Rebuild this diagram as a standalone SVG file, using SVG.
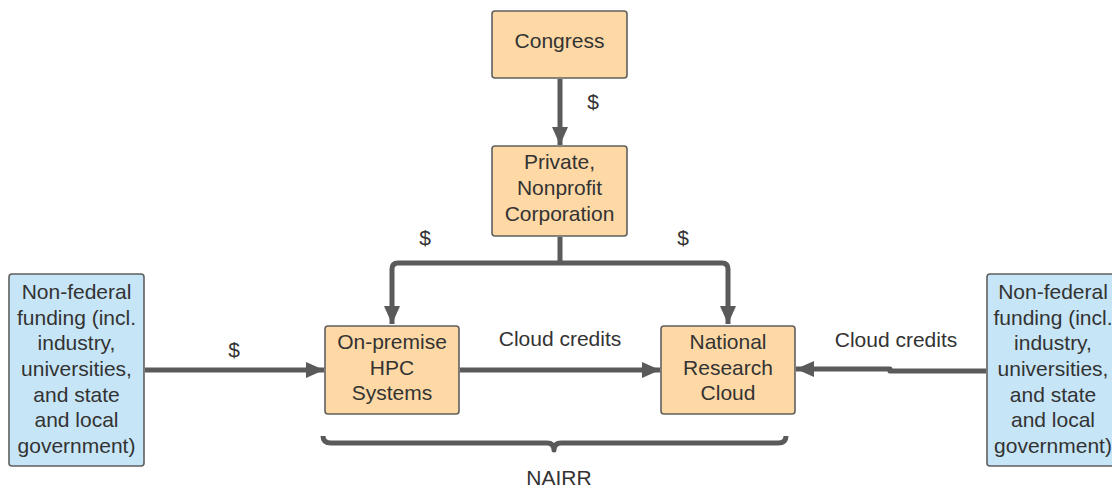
<svg xmlns="http://www.w3.org/2000/svg" width="1112" height="489" viewBox="0 0 1112 489">
<style>
.box{stroke:#5f5f5f;stroke-width:1.6}
.org{fill:#fed9a6}
.blu{fill:#c6e5f6}
text{font-family:"Liberation Sans",Arial,sans-serif;font-size:21px;fill:#333;text-anchor:middle}
.ln{fill:none;stroke:#5a5a5a;stroke-width:5;stroke-linejoin:round}
.arr{marker-end:url(#ah)}
</style>
<defs>
<marker id="ah" markerUnits="userSpaceOnUse" markerWidth="20" markerHeight="16" refX="18" refY="8" orient="auto">
<path d="M0,0 L18,8 L0,16 Z" fill="#5a5a5a"/>
</marker>
</defs>
<g id="connectors">
<path class="ln arr" d="M560,79 L560,145"/>
<path class="ln" d="M560,237 L560,263"/>
<path class="ln arr" d="M560,263 L398,263 Q392,263 392,269 L392,324"/>
<path class="ln arr" d="M560,263 L722,263 Q728,263 728,269 L728,324"/>
<path class="ln arr" d="M145,370 L324,370"/>
<path class="ln arr" d="M460,370 L660,370"/>
<path class="ln arr" d="M986,371 L890,371 L890,369 L796,369"/>
<path class="ln" d="M323,436 Q323,443 331,443 L547,443 Q554,443 554,450 Q554,443 561,443 L778,443 Q786,443 786,436"/>
<text x="593" y="109">$</text>
<text x="425" y="245">$</text>
<text x="683" y="245">$</text>
<text x="234" y="357">$</text>
<text x="560" y="346">Cloud credits</text>
<text x="896" y="347">Cloud credits</text>
<text x="559" y="485">NAIRR</text>
</g>
<g id="congress">
<rect class="box org" x="492" y="11" width="135" height="67" rx="3"/>
<text x="559.5" y="48">Congress</text>
</g>
<g id="corporation">
<rect class="box org" x="492" y="146" width="135" height="90" rx="3"/>
<text x="559.5" y="169">Private,</text>
<text x="559.5" y="195">Nonprofit</text>
<text x="559.5" y="221">Corporation</text>
</g>
<g id="onpremise">
<rect class="box org" x="325" y="326" width="134" height="88" rx="3"/>
<text x="392" y="348.5">On-premise</text>
<text x="392" y="374.5">HPC</text>
<text x="392" y="399.5">Systems</text>
</g>
<g id="nrc">
<rect class="box org" x="661" y="326" width="134" height="88" rx="3"/>
<text x="728" y="348.5">National</text>
<text x="728" y="374.5">Research</text>
<text x="728" y="399.5">Cloud</text>
</g>
<g id="nonfed-left">
<rect class="box blu" x="9" y="274" width="135" height="192" rx="3"/>
<text x="76.5" y="298.5">Non-federal</text>
<text x="76.5" y="324.5">funding (incl.</text>
<text x="76.5" y="350">industry,</text>
<text x="76.5" y="375.5">universities,</text>
<text x="76.5" y="401.5">and state</text>
<text x="76.5" y="427">and local</text>
<text x="76.5" y="452.5">government)</text>
</g>
<g id="nonfed-right">
<rect class="box blu" x="987" y="274" width="135" height="192" rx="3"/>
<text x="1053" y="298.5">Non-federal</text>
<text x="1053" y="324.5">funding (incl.</text>
<text x="1053" y="350">industry,</text>
<text x="1053" y="375.5">universities,</text>
<text x="1053" y="401.5">and state</text>
<text x="1053" y="427">and local</text>
<text x="1053" y="452.5">government)</text>
</g>
</svg>
